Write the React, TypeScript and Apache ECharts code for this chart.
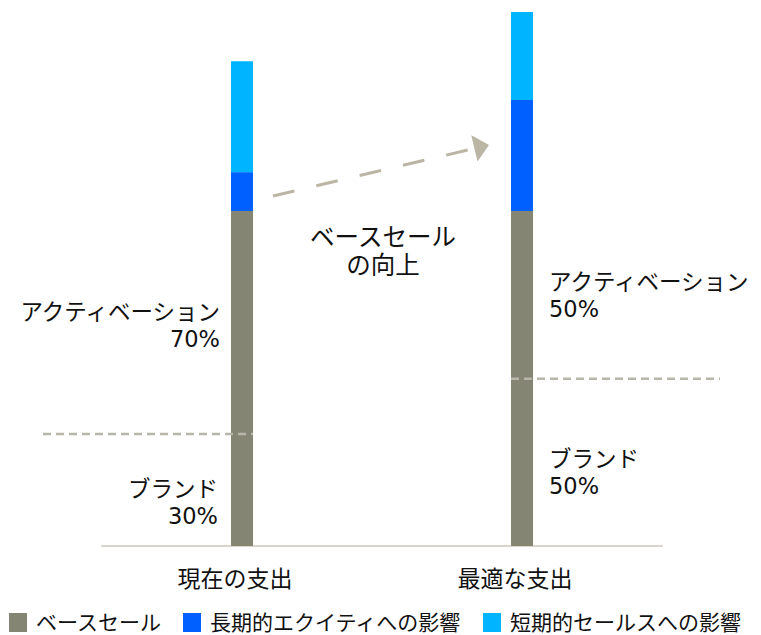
import React, { useEffect, useRef } from "react";
import * as echarts from "echarts";

const categories = ["現在の支出", "最適な支出"];
const seriesNames = ["ベースセール", "長期的エクイティへの影響", "短期的セールスへの影響"];
const baseSales = [100, 100];
const longTermEquity = [11.6, 33.1];
const shortTermSales = [33.1, 26.3];
const brandLevel = [33.4, 49.9];
const brandLabels = ["ブランド\n30%", "ブランド\n50%"];
const activationLabels = ["アクティベーション\n70%", "アクティベーション\n50%"];
const upliftLabel = "ベースセール\nの向上";

const FONT = "'DejaVu Sans', 'Noto Sans CJK JP', sans-serif";
const GRAY = "#858574";
const DARK_BLUE = "#005fff";
const LIGHT_BLUE = "#00b4ff";
const DASH_COLOR = "#b8b6ab";
const ARROW_COLOR = "#bab5a4";
const TEXT = "#111111";

export default function App() {
  const ref = useRef<HTMLDivElement>(null);
  useEffect(() => {
    const chart = echarts.init(ref.current as HTMLDivElement, null, { renderer: "svg" });
    chart.setOption({
      animation: false,
      backgroundColor: "#ffffff",
      textStyle: { fontFamily: FONT },
      grid: { left: 102, width: 560, top: 10, height: 536 },
      legend: {
        left: 9,
        top: 612,
        itemWidth: 18,
        itemHeight: 19,
        itemGap: 21,
        icon: "rect",
        padding: 0,
        textStyle: { fontSize: 21, color: TEXT, fontFamily: FONT, padding: [0, 0, 0, 4] },
        data: seriesNames,
      },
      xAxis: {
        type: "category",
        data: categories,
        axisLine: { lineStyle: { color: "#d9d5cc", width: 2 } },
        axisTick: { show: false },
        axisLabel: { fontSize: 23, color: TEXT, fontFamily: FONT, margin: 21, padding: [0, 14, 0, 0] },
      },
      yAxis: { type: "value", min: 0, max: 160, show: false, splitLine: { show: false } },
      series: [
        { name: seriesNames[0], type: "bar", stack: "s", barWidth: 22, data: baseSales, itemStyle: { color: GRAY } },
        { name: seriesNames[1], type: "bar", stack: "s", barWidth: 22, data: longTermEquity, itemStyle: { color: DARK_BLUE } },
        { name: seriesNames[2], type: "bar", stack: "s", barWidth: 22, data: shortTermSales, itemStyle: { color: LIGHT_BLUE } },
      ],
    });

    const px = (i: number) => chart.convertToPixel({ xAxisIndex: 0 }, categories[i]) as number;
    const py = (v: number) => chart.convertToPixel({ yAxisIndex: 0 }, v) as number;
    const halfBar = 11;
    const x0 = px(0);
    const x1 = px(1);
    const yZero = py(0);
    const yBase0 = py(baseSales[0]);
    const yBase1 = py(baseSales[1]);
    const yBrand0 = py(brandLevel[0]);
    const yBrand1 = py(brandLevel[1]);

    // arrow
    const start = [x0 + 31, yBase0 - 15];
    const tip = [x1 - 33, yBase1 - 66];
    const dx = tip[0] - start[0];
    const dy = tip[1] - start[1];
    const len = Math.sqrt(dx * dx + dy * dy);
    const ux = dx / len;
    const uy = dy / len;
    const headLen = 15;
    const headHalf = 13.5;
    const back = [tip[0] - ux * headLen, tip[1] - uy * headLen];
    const nx = -uy;
    const ny = ux;

    const textStyle = (text: string, x: number, y: number, align: string) => ({
      text,
      x,
      y,
      align,
      verticalAlign: "middle",
      fontSize: 22.5,
      lineHeight: 27,
      fontFamily: FONT,
      fill: TEXT,
    });

    chart.setOption({
      graphic: [
        {
          type: "line",
          z: 100,
          shape: { x1: x0 - 199, y1: yBrand0, x2: x0 + halfBar, y2: yBrand0 },
          style: { stroke: DASH_COLOR, lineWidth: 2.5, lineDash: [8, 5] },
        },
        {
          type: "line",
          z: 100,
          shape: { x1: x1 - halfBar, y1: yBrand1, x2: x1 + 198, y2: yBrand1 },
          style: { stroke: DASH_COLOR, lineWidth: 2.5, lineDash: [8, 5] },
        },
        {
          type: "line",
          z: 100,
          shape: { x1: start[0], y1: start[1], x2: back[0], y2: back[1] },
          style: { stroke: ARROW_COLOR, lineWidth: 3, lineDash: [22, 22.5] },
        },
        {
          type: "polygon",
          z: 100,
          shape: {
            points: [
              [tip[0], tip[1]],
              [back[0] + nx * headHalf, back[1] + ny * headHalf],
              [back[0] - nx * headHalf, back[1] - ny * headHalf],
            ],
          },
          style: { fill: ARROW_COLOR },
        },
        { type: "text", z: 100, style: textStyle(activationLabels[0], x0 - 22, (yBase0 + yBrand0) / 2 + 3, "right") },
        { type: "text", z: 100, style: textStyle(brandLabels[0], x0 - 24, (yZero + yBrand0) / 2 + 12, "right") },
        { type: "text", z: 100, style: textStyle(activationLabels[1], x1 + 27, (yBase1 + yBrand1) / 2 + 1, "left") },
        { type: "text", z: 100, style: textStyle(brandLabels[1], x1 + 27, (yZero + yBrand1) / 2 + 10, "left") },
        {
          type: "text",
          z: 100,
          style: { ...textStyle(upliftLabel, (x0 + x1) / 2 + 1, yBase0 + 40, "center"), fontSize: 24.5, lineHeight: 28 },
        },
      ],
    });
    return () => chart.dispose();
  }, []);
  return <div ref={ref} style={{ position: "fixed", left: 0, top: 0, width: 761, height: 635 }} />;
}
